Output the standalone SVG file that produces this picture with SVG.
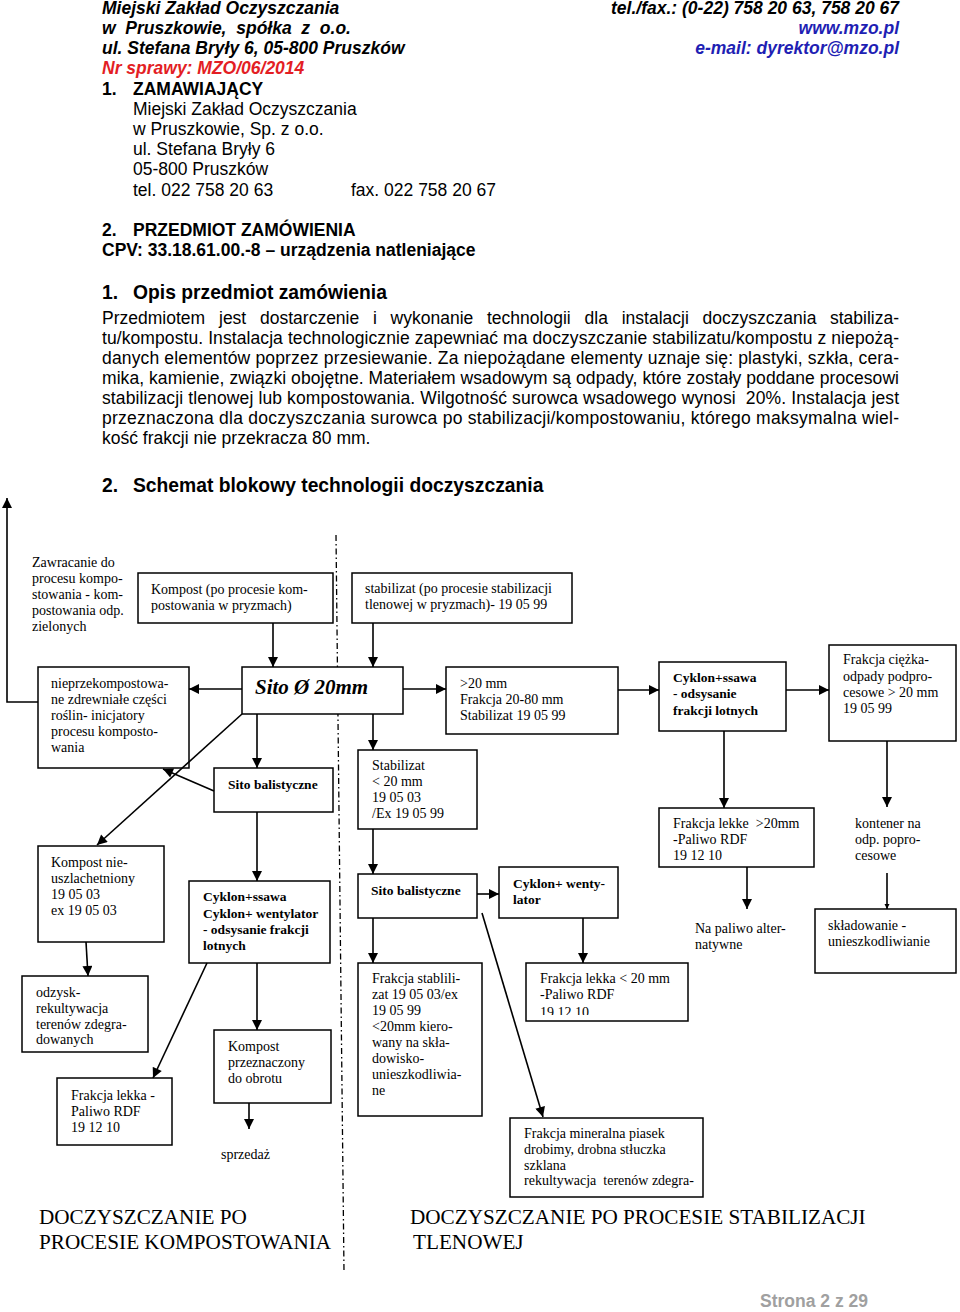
<svg xmlns="http://www.w3.org/2000/svg" width="960" height="1312" viewBox="0 0 960 1312">
<style>
.h{font-family:"Liberation Sans",Arial,sans-serif;font-size:17.5px;fill:#000}
.hbi{font-weight:bold;font-style:italic}
.b{font-weight:bold}
.h2{font-family:"Liberation Sans",Arial,sans-serif;font-size:19.3px;font-weight:bold;fill:#000}
.s{font-family:"Liberation Serif","Times New Roman",serif;font-size:14px;fill:#000}
.sb{font-family:"Liberation Serif","Times New Roman",serif;font-size:13.5px;font-weight:bold;fill:#000}
.big{font-family:"Liberation Serif","Times New Roman",serif;font-size:21.2px;fill:#000}
.box{fill:#fff;stroke:#000;stroke-width:1.5}
.c line,.c polyline{stroke:#000;stroke-width:1.6;fill:none}
</style>
<defs>
<marker id="ah" viewBox="0 0 10 10" refX="10" refY="5" markerWidth="11" markerHeight="10" markerUnits="userSpaceOnUse" orient="auto"><path d="M0,0 L10,5 L0,10 z" fill="#000"/></marker>
<marker id="ahs" viewBox="0 0 10 10" refX="10" refY="5" markerWidth="5" markerHeight="8" markerUnits="userSpaceOnUse" orient="auto"><path d="M0,0 L10,5 L0,10 z" fill="#000"/></marker>
<clipPath id="clipRdf"><rect x="520" y="960" width="170" height="55"/></clipPath>
</defs>
<rect width="960" height="1312" fill="#fff"/>

<g id="header">
<text class="h hbi" x="102" y="14">Miejski Zakład Oczyszczania</text>
<text class="h hbi" x="102" y="34" xml:space="preserve">w  Pruszkowie,  spółka  z  o.o.</text>
<text class="h hbi" x="102" y="54">ul. Stefana Bryły 6, 05-800 Pruszków</text>
<text class="h hbi" x="102" y="74" style="fill:#e31e24">Nr sprawy: MZO/06/2014</text>
<text class="h hbi" x="899" y="14" text-anchor="end">tel./fax.: (0-22) 758 20 63, 758 20 67</text>
<text class="h hbi" x="899" y="34" text-anchor="end" style="fill:#1f1fb4">www.mzo.pl</text>
<text class="h hbi" x="899" y="54" text-anchor="end" style="fill:#1f1fb4">e-mail: dyrektor@mzo.pl</text>
<text class="h b" x="102" y="95">1.</text>
<text class="h b" x="133" y="95">ZAMAWIAJĄCY</text>
<text class="h" x="133" y="115">Miejski Zakład Oczyszczania</text>
<text class="h" x="133" y="135">w Pruszkowie, Sp. z o.o.</text>
<text class="h" x="133" y="155">ul. Stefana Bryły 6</text>
<text class="h" x="133" y="175">05-800 Pruszków</text>
<text class="h" x="133" y="196">tel. 022 758 20 63</text>
<text class="h" x="351" y="196">fax. 022 758 20 67</text>
<text class="h b" x="102" y="236">2.</text>
<text class="h b" x="133" y="236">PRZEDMIOT ZAMÓWIENIA</text>
<text class="h b" x="102" y="256">CPV: 33.18.61.00.-8 – urządzenia natleniające</text>
<text class="h2" x="102" y="299">1.</text>
<text class="h2" x="133" y="299">Opis przedmiot zamówienia</text>
<text class="h" y="324"><tspan x="102">Przedmiotem</tspan><tspan x="219">jest</tspan><tspan x="260">dostarczenie</tspan><tspan x="373">i</tspan><tspan x="390.6">wykonanie</tspan><tspan x="487">technologii</tspan><tspan x="584.6">dla</tspan><tspan x="621.7">instalacji</tspan><tspan x="702.6">doczyszczania</tspan><tspan x="830">stabiliza-</tspan></text>
<text class="h" x="102" y="344" textLength="797" lengthAdjust="spacing">tu/kompostu. Instalacja technologicznie zapewniać ma doczyszczanie stabilizatu/kompostu z niepożą-</text>
<text class="h" x="102" y="364" textLength="797" lengthAdjust="spacing">danych elementów poprzez przesiewanie. Za niepożądane elementy uznaje się: plastyki, szkła, cera-</text>
<text class="h" x="102" y="384" textLength="797" lengthAdjust="spacing">mika, kamienie, związki obojętne. Materiałem wsadowym są odpady, które zostały poddane procesowi</text>
<text class="h" x="102" y="404" textLength="797" lengthAdjust="spacing" xml:space="preserve">stabilizacji tlenowej lub kompostowania. Wilgotność surowca wsadowego wynosi  20%. Instalacja jest</text>
<text class="h" x="102" y="424" textLength="797" lengthAdjust="spacing">przeznaczona dla doczyszczania surowca po stabilizacji/kompostowaniu, którego maksymalna wiel-</text>
<text class="h" x="102" y="444">kość frakcji nie przekracza 80 mm.</text>
<text class="h2" x="102" y="492">2.</text>
<text class="h2" x="133" y="492">Schemat blokowy technologii doczyszczania</text>
</g>

<g id="divider"><line x1="336" y1="535" x2="344" y2="1272" stroke="#000" stroke-width="1.3" stroke-dasharray="6,3,1.5,3"/></g>

<g id="n-zawracanie">
<text class="s" x="32" y="567">Zawracanie do</text>
<text class="s" x="32" y="583">procesu kompo-</text>
<text class="s" x="32" y="599">stowania - kom-</text>
<text class="s" x="32" y="615">postowania odp.</text>
<text class="s" x="32" y="631">zielonych</text>
</g>
<g id="n-kompost"><rect class="box" x="138" y="573" width="195" height="50"/>
<text class="s" x="151" y="594">Kompost (po procesie kom-</text>
<text class="s" x="151" y="610">postowania w pryzmach)</text></g>
<g id="n-stabilizat"><rect class="box" x="352" y="573" width="220" height="50"/>
<text class="s" x="365" y="593">stabilizat (po procesie stabilizacji</text>
<text class="s" x="365" y="609">tlenowej w pryzmach)- 19 05 99</text></g>
<g id="n-sito20"><rect class="box" x="242" y="667" width="161" height="47"/>
<text x="255" y="694" style="font-family:'Liberation Serif','Times New Roman',serif;font-size:21px;font-weight:bold;font-style:italic">Sito Ø 20mm</text></g>
<g id="n-nieprzek"><rect class="box" x="38" y="667" width="151" height="101"/>
<text class="s" x="51" y="688">nieprzekompostowa-</text>
<text class="s" x="51" y="704">ne zdrewniałe części</text>
<text class="s" x="51" y="720">roślin- inicjatory</text>
<text class="s" x="51" y="736">procesu komposto-</text>
<text class="s" x="51" y="752">wania</text></g>
<g id="n-sitobal1"><rect class="box" x="214" y="768" width="119" height="44"/>
<text class="sb" x="228" y="789">Sito balistyczne</text></g>
<g id="n-kompostnie"><rect class="box" x="38" y="846" width="126" height="96"/>
<text class="s" x="51" y="867">Kompost  nie-</text>
<text class="s" x="51" y="883">uszlachetniony</text>
<text class="s" x="51" y="899">19 05 03</text>
<text class="s" x="51" y="915">ex 19 05 03</text></g>
<g id="n-cyklon1"><rect class="box" x="189" y="881" width="141" height="82"/>
<text class="sb" x="203" y="901">Cyklon+ssawa</text>
<text class="sb" x="203" y="918">Cyklon+ wentylator</text>
<text class="sb" x="203" y="934">- odsysanie frakcji</text>
<text class="sb" x="203" y="950">lotnych</text></g>
<g id="n-odzysk"><rect class="box" x="22" y="976" width="126" height="76"/>
<text class="s" x="36" y="997">odzysk-</text>
<text class="s" x="36" y="1013">rekultywacja</text>
<text class="s" x="36" y="1029">terenów zdegra-</text>
<text class="s" x="36" y="1044">dowanych</text></g>
<g id="n-kompostprz"><rect class="box" x="214" y="1030" width="117" height="73"/>
<text class="s" x="228" y="1051">Kompost</text>
<text class="s" x="228" y="1067">przeznaczony</text>
<text class="s" x="228" y="1083">do obrotu</text></g>
<g id="n-frlekka1"><rect class="box" x="57" y="1078" width="115" height="67"/>
<text class="s" x="71" y="1100">Frakcja lekka -</text>
<text class="s" x="71" y="1116">Paliwo RDF</text>
<text class="s" x="71" y="1132">19 12 10</text></g>
<g id="n-sprzedaz"><text class="s" x="221" y="1159">sprzedaż</text></g>

<g id="n-gt20"><rect class="box" x="446" y="667" width="172" height="67"/>
<text class="s" x="460" y="688">&gt;20 mm</text>
<text class="s" x="460" y="704">Frakcja 20-80 mm</text>
<text class="s" x="460" y="720">Stabilizat 19 05 99</text></g>
<g id="n-cyklon2"><rect class="box" x="659" y="662" width="127" height="69"/>
<text class="sb" x="673" y="682">Cyklon+ssawa</text>
<text class="sb" x="673" y="698">- odsysanie</text>
<text class="sb" x="673" y="715">frakcji lotnych</text></g>
<g id="n-ciezka"><rect class="box" x="829" y="645" width="127" height="96"/>
<text class="s" x="843" y="664">Frakcja ciężka-</text>
<text class="s" x="843" y="681">odpady podpro-</text>
<text class="s" x="843" y="697">cesowe &gt; 20 mm</text>
<text class="s" x="843" y="713">19 05 99</text></g>
<g id="n-lekke"><rect class="box" x="659" y="808" width="155" height="59"/>
<text class="s" x="673" y="828" xml:space="preserve">Frakcja lekke  &gt;20mm</text>
<text class="s" x="673" y="844">-Paliwo RDF</text>
<text class="s" x="673" y="860">19 12 10</text></g>
<g id="n-napaliwo"><text class="s" x="695" y="933">Na paliwo alter-</text>
<text class="s" x="695" y="949">natywne</text></g>
<g id="n-kontener"><text class="s" x="855" y="828">kontener na</text>
<text class="s" x="855" y="844">odp. popro-</text>
<text class="s" x="855" y="860">cesowe</text></g>
<g id="n-skladowanie"><rect class="box" x="815" y="909" width="141" height="64"/>
<text class="s" x="828" y="930">składowanie -</text>
<text class="s" x="828" y="946">unieszkodliwianie</text></g>
<g id="n-stab20"><rect class="box" x="358" y="750" width="119" height="79"/>
<text class="s" x="372" y="770">Stabilizat</text>
<text class="s" x="372" y="786">&lt; 20 mm</text>
<text class="s" x="372" y="802">19 05 03</text>
<text class="s" x="372" y="818">/Ex 19 05 99</text></g>
<g id="n-sitobal2"><rect class="box" x="358" y="874" width="119" height="44"/>
<text class="sb" x="371" y="895">Sito balistyczne</text></g>
<g id="n-cyklon3"><rect class="box" x="499" y="867" width="119" height="51"/>
<text class="sb" x="513" y="888">Cyklon+ wenty-</text>
<text class="sb" x="513" y="904">lator</text></g>
<g id="n-frstab"><rect class="box" x="358" y="963" width="124" height="153"/>
<text class="s" x="372" y="983">Frakcja stablili-</text>
<text class="s" x="372" y="999">zat 19 05 03/ex</text>
<text class="s" x="372" y="1015">19 05 99</text>
<text class="s" x="372" y="1031">&lt;20mm kiero-</text>
<text class="s" x="372" y="1047">wany na skła-</text>
<text class="s" x="372" y="1063">dowisko-</text>
<text class="s" x="372" y="1079">unieszkodliwia-</text>
<text class="s" x="372" y="1095">ne</text></g>
<g id="n-frlekka2"><rect class="box" x="526" y="963" width="162" height="58"/>
<text class="s" x="540" y="983">Frakcja lekka &lt; 20 mm</text>
<text class="s" x="540" y="999">-Paliwo RDF</text>
<text class="s" x="540" y="1017" clip-path="url(#clipRdf)">19 12 10</text></g>
<g id="n-mineral"><rect class="box" x="510" y="1118" width="193" height="79"/>
<text class="s" x="524" y="1138">Frakcja mineralna piasek</text>
<text class="s" x="524" y="1154">drobimy, drobna stłuczka</text>
<text class="s" x="524" y="1170">szklana</text>
<text class="s" x="524" y="1185" xml:space="preserve">rekultywacja  terenów zdegra-</text></g>

<g id="titles">
<text class="big" x="39" y="1224">DOCZYSZCZANIE PO</text>
<text class="big" x="39" y="1249">PROCESIE KOMPOSTOWANIA</text>
<text class="big" x="410" y="1224">DOCZYSZCZANIE PO PROCESIE STABILIZACJI</text>
<text class="big" x="413" y="1249">TLENOWEJ</text>
</g>
<g id="footer"><text class="h b" x="760" y="1307" style="fill:#a0a0a0">Strona 2 z 29</text></g>

<g id="connectors" class="c">
<polyline points="38,702 7,702 7,498" marker-end="url(#ah)"/>
<line x1="273" y1="623" x2="273" y2="667" marker-end="url(#ah)"/>
<line x1="373" y1="623" x2="373" y2="667" marker-end="url(#ah)"/>
<line x1="242" y1="689" x2="189" y2="689" marker-end="url(#ah)"/>
<line x1="403" y1="689" x2="446" y2="689" marker-end="url(#ah)"/>
<line x1="257" y1="714" x2="257" y2="768" marker-end="url(#ah)"/>
<line x1="373" y1="714" x2="373" y2="750" marker-end="url(#ah)"/>
<line x1="214" y1="791" x2="163" y2="769" marker-end="url(#ah)"/>
<line x1="242" y1="714" x2="97" y2="845" marker-end="url(#ah)"/>
<line x1="86" y1="942" x2="88" y2="976" marker-end="url(#ah)"/>
<line x1="257" y1="812" x2="257" y2="881" marker-end="url(#ah)"/>
<line x1="207" y1="963" x2="153" y2="1078" marker-end="url(#ah)"/>
<line x1="257" y1="963" x2="257" y2="1030" marker-end="url(#ah)"/>
<line x1="249" y1="1103" x2="249" y2="1129" marker-end="url(#ah)"/>
<line x1="618" y1="690" x2="659" y2="690" marker-end="url(#ah)"/>
<line x1="786" y1="690" x2="829" y2="690" marker-end="url(#ah)"/>
<line x1="724" y1="731" x2="724" y2="808" marker-end="url(#ah)"/>
<line x1="747" y1="867" x2="747" y2="909" marker-end="url(#ah)"/>
<line x1="887" y1="741" x2="887" y2="807" marker-end="url(#ah)"/>
<line x1="887" y1="873" x2="887" y2="909" marker-end="url(#ahs)"/>
<line x1="373" y1="829" x2="373" y2="874" marker-end="url(#ah)"/>
<line x1="477" y1="894" x2="499" y2="894" marker-end="url(#ah)"/>
<line x1="373" y1="918" x2="373" y2="963" marker-end="url(#ah)"/>
<line x1="583" y1="918" x2="583" y2="963" marker-end="url(#ah)"/>
<line x1="482" y1="913" x2="543" y2="1117" marker-end="url(#ah)"/>
</g>
</svg>
